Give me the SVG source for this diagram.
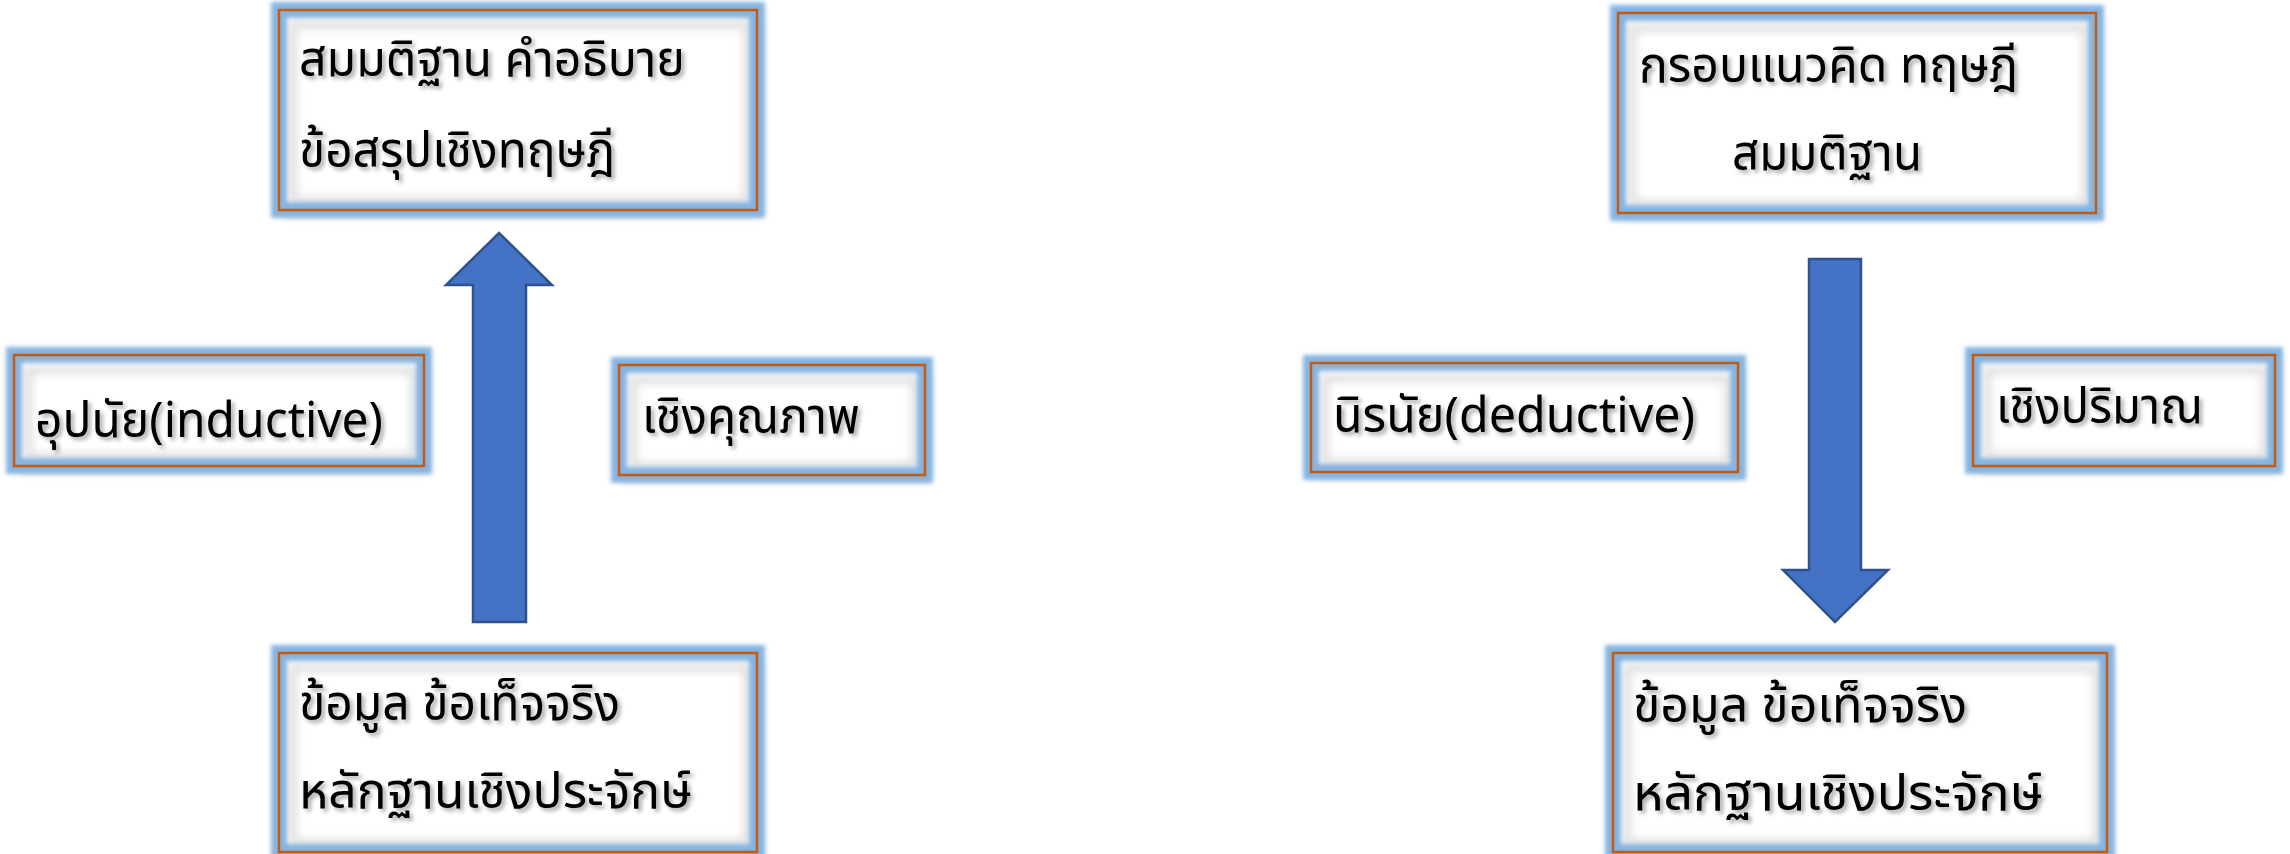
<svg xmlns="http://www.w3.org/2000/svg" width="2290" height="854" viewBox="0 0 2290 854">
<style>
  .sh { fill: #000000; fill-opacity: 0.15; filter: url(#blur5); }
  .bg { fill: #ffffff; }
  .ish { fill: none; stroke: #000000; stroke-opacity: 0.13; stroke-width: 8; filter: url(#blur4); }
  .glow { fill: none; stroke: #85B4E0; stroke-width: 16; filter: url(#blur2); }
  .bd { fill: none; stroke: #C55A11; stroke-width: 2.5; }
  .t { font-family: "Leelawadee UI", "Noto Sans Thai", "Noto Sans Thai UI", Tahoma, "Noto Sans", sans-serif; font-size: 50px; fill: #000000; filter: url(#tshadow); }
  .arrow { fill: #4472C4; stroke: #2F528F; stroke-width: 2.5; stroke-linejoin: miter; }
</style>
<defs>
  <filter id="blur5" x="-20%" y="-40%" width="140%" height="180%"><feGaussianBlur stdDeviation="5"/></filter>
  <filter id="blur4" x="-20%" y="-40%" width="140%" height="180%"><feGaussianBlur stdDeviation="4"/></filter>
  <filter id="blur2" x="-20%" y="-40%" width="140%" height="180%"><feGaussianBlur stdDeviation="2.2"/></filter>
  <filter id="tshadow" x="-10%" y="-30%" width="120%" height="160%">
    <feGaussianBlur in="SourceAlpha" stdDeviation="2" result="b"/>
    <feOffset in="b" dx="3" dy="3" result="o"/>
    <feFlood flood-color="#000000" flood-opacity="0.35"/>
    <feComposite in2="o" operator="in" result="s"/>
    <feMerge>
      <feMergeNode in="s"/>
      <feMergeNode in="SourceGraphic"/>
    </feMerge>
  </filter>
</defs>
<rect width="2290" height="854" fill="#ffffff"/>

<g id="connectors">
  <polygon class="arrow" points="499,233 552,285 526,285 526,622 473,622 473,285 446,285"/>
  <polygon class="arrow" points="1809,259 1861,259 1861,570 1888,570 1835,622 1783,570 1809,570"/>
</g>

<g id="node-theory-left">
  <rect class="sh" x="283" y="16" width="478" height="200"/>
  <rect class="bg" x="279" y="10" width="478" height="200"/>
  <rect class="ish" x="293" y="25" width="454" height="176"/>
  <rect class="glow" x="279" y="10" width="478" height="200"/>
  <rect class="bd" x="279" y="10" width="478" height="200"/>
  <text class="t" x="299" y="76" textLength="386" lengthAdjust="spacingAndGlyphs">สมมติฐาน คำอธิบาย</text>
  <text class="t" x="299" y="167" textLength="316" lengthAdjust="spacingAndGlyphs">ข้อสรุปเชิงทฤษฎี</text>
</g>

<g id="node-inductive">
  <rect class="sh" x="18" y="361" width="410" height="111"/>
  <rect class="bg" x="14" y="355" width="410" height="111"/>
  <rect class="ish" x="28" y="370" width="386" height="87"/>
  <rect class="glow" x="14" y="355" width="410" height="111"/>
  <rect class="bd" x="14" y="355" width="410" height="111"/>
  <text class="t" x="35" y="437" textLength="348" lengthAdjust="spacingAndGlyphs">อุปนัย(inductive)</text>
</g>

<g id="node-qualitative">
  <rect class="sh" x="623" y="371" width="306" height="110"/>
  <rect class="bg" x="619" y="365" width="306" height="110"/>
  <rect class="ish" x="633" y="380" width="282" height="86"/>
  <rect class="glow" x="619" y="365" width="306" height="110"/>
  <rect class="bd" x="619" y="365" width="306" height="110"/>
  <text class="t" x="642" y="433" textLength="218" lengthAdjust="spacingAndGlyphs">เชิงคุณภาพ</text>
</g>

<g id="node-data-left">
  <rect class="sh" x="283" y="659" width="478" height="199"/>
  <rect class="bg" x="279" y="653" width="478" height="199"/>
  <rect class="ish" x="293" y="668" width="454" height="175"/>
  <rect class="glow" x="279" y="653" width="478" height="199"/>
  <rect class="bd" x="279" y="653" width="478" height="199"/>
  <text class="t" x="299" y="720" textLength="321" lengthAdjust="spacingAndGlyphs">ข้อมูล ข้อเท็จจริง</text>
  <text class="t" x="299" y="808" textLength="393" lengthAdjust="spacingAndGlyphs">หลักฐานเชิงประจักษ์</text>
</g>

<g id="node-theory-right">
  <rect class="sh" x="1622" y="19" width="478" height="200"/>
  <rect class="bg" x="1618" y="13" width="478" height="200"/>
  <rect class="ish" x="1632" y="28" width="454" height="176"/>
  <rect class="glow" x="1618" y="13" width="478" height="200"/>
  <rect class="bd" x="1618" y="13" width="478" height="200"/>
  <text class="t" x="1639" y="82" textLength="379" lengthAdjust="spacingAndGlyphs">กรอบแนวคิด ทฤษฎี</text>
  <text class="t" x="1732" y="170" textLength="190" lengthAdjust="spacingAndGlyphs">สมมติฐาน</text>
</g>

<g id="node-deductive">
  <rect class="sh" x="1315" y="369" width="427" height="109"/>
  <rect class="bg" x="1311" y="363" width="427" height="109"/>
  <rect class="ish" x="1325" y="378" width="403" height="85"/>
  <rect class="glow" x="1311" y="363" width="427" height="109"/>
  <rect class="bd" x="1311" y="363" width="427" height="109"/>
  <text class="t" x="1333" y="432" textLength="362" lengthAdjust="spacingAndGlyphs">นิรนัย(deductive)</text>
</g>

<g id="node-quantitative">
  <rect class="sh" x="1977" y="361" width="302" height="111"/>
  <rect class="bg" x="1973" y="355" width="302" height="111"/>
  <rect class="ish" x="1987" y="370" width="278" height="87"/>
  <rect class="glow" x="1973" y="355" width="302" height="111"/>
  <rect class="bd" x="1973" y="355" width="302" height="111"/>
  <text class="t" x="1996" y="423" textLength="207" lengthAdjust="spacingAndGlyphs">เชิงปริมาณ</text>
</g>

<g id="node-data-right">
  <rect class="sh" x="1617" y="659" width="494" height="199"/>
  <rect class="bg" x="1613" y="653" width="494" height="199"/>
  <rect class="ish" x="1627" y="668" width="470" height="175"/>
  <rect class="glow" x="1613" y="653" width="494" height="199"/>
  <rect class="bd" x="1613" y="653" width="494" height="199"/>
  <text class="t" x="1633" y="722" textLength="334" lengthAdjust="spacingAndGlyphs">ข้อมูล ข้อเท็จจริง</text>
  <text class="t" x="1633" y="810" textLength="410" lengthAdjust="spacingAndGlyphs">หลักฐานเชิงประจักษ์</text>
</g>
</svg>
